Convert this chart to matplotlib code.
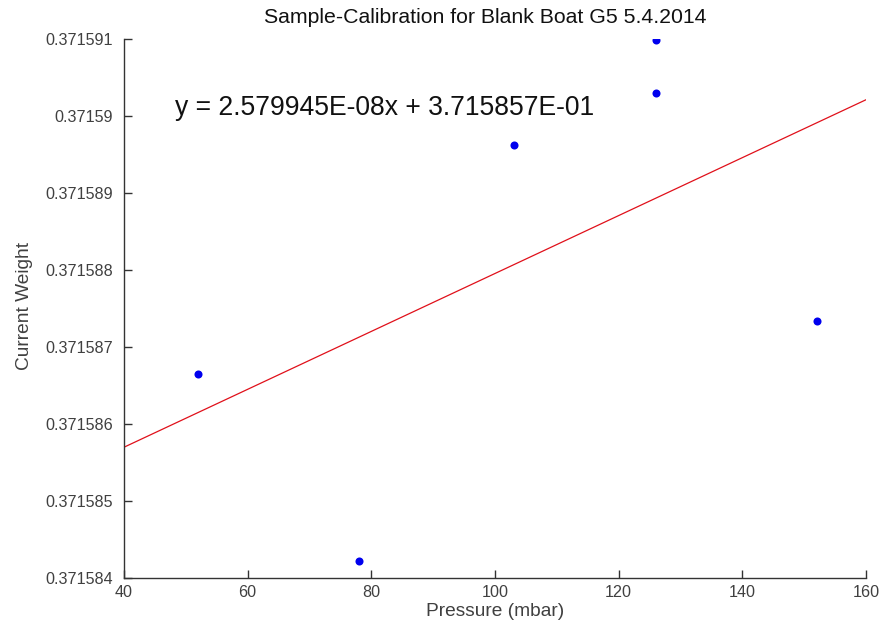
import matplotlib
matplotlib.use("Agg")
import matplotlib.pyplot as plt
import numpy as np

plt.rcParams['font.family'] = ['Liberation Sans', 'DejaVu Sans']

pressure = [52, 78, 103, 126, 126, 152]
weight = [0.37158665, 0.37158422, 0.37158962, 0.37159099, 0.37159030, 0.37158734]

x_ticks = [40, 60, 80, 100, 120, 140, 160]
y_ticks = [0.371584, 0.371585, 0.371586, 0.371587, 0.371588, 0.371589, 0.371590, 0.371591]
y_tick_labels = ['0.371584', '0.371585', '0.371586', '0.371587', '0.371588',
                 '0.371589', '0.37159', '0.371591']

title = 'Sample-Calibration for Blank Boat G5 5.4.2014'
equation = 'y = 2.579945E-08x + 3.715857E-01'

fig = plt.figure(figsize=(8.81, 6.34), dpi=100)
ax = fig.add_axes([124/881, 1 - 578/634, (866 - 124)/881, (578 - 39)/634])

coef = np.polyfit(pressure, weight, 1)
xl = np.array([x_ticks[0], x_ticks[-1]])
ax.plot(xl, np.polyval(coef, xl), color='#e0101a', lw=0.9)
ax.plot(pressure, weight, 'o', color='#0000ee', markersize=5.8, markeredgewidth=0)

ax.set_xlim(x_ticks[0], x_ticks[-1])
ax.set_ylim(y_ticks[0], y_ticks[-1])
ax.set_xticks(x_ticks)
ax.set_xticklabels([str(v) for v in x_ticks])
ax.set_yticks(y_ticks)
ax.set_yticklabels(y_tick_labels)

for s in ['top', 'right']:
    ax.spines[s].set_visible(False)
for s in ['left', 'bottom']:
    ax.spines[s].set_color('#333333')
    ax.spines[s].set_linewidth(1.0)
ax.tick_params(direction='in', length=6, width=1, colors='#333333',
               labelsize=11.6, labelcolor='#404040')
ax.tick_params(axis='y', pad=8)
ax.tick_params(axis='x', pad=5)

ax.set_xlabel('Pressure (mbar)', fontsize=13.8, color='#404040', labelpad=2)
ax.set_ylabel('Current Weight', fontsize=13.8, color='#404040')
ax.yaxis.set_label_coords(-0.1225, 0.505)
ax.set_title(title, fontsize=15.3, color='#111111', pad=11.5, x=0.487)

ax.text(48.3, 0.3715901, equation, fontsize=19.1, color='#111111', va='center', ha='left')

fig.savefig('out.png', dpi=100)
